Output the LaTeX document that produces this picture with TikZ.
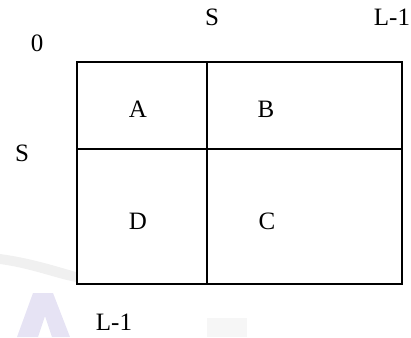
\documentclass[tikz,border=0pt]{standalone}
\usepackage{fontspec}
\setmainfont{Liberation Serif}
\usetikzlibrary{positioning}
\definecolor{wmlav}{HTML}{E6E3F4}
\definecolor{wmgray}{HTML}{F0F0F0}

\begin{document}
\begin{tikzpicture}[x=1pt, y=-1pt,
  lbl/.style={font=\fontsize{25}{30}\selectfont, inner sep=0pt},
  frame/.style={line width=2pt, black},
  wmark/.style={draw=none},
]
\useasboundingbox (0,0) rectangle (411,337);

% faint watermark behind the grid
\fill[wmark, wmgray] (0,254) .. controls (30,258) and (55,266) .. (76,272)
  -- (76,282) .. controls (55,278) and (30,268) .. (0,264) -- cycle;
\fill[wmark, wmlav, even odd rule] (17,337) -- (33,293) -- (53,293) -- (70,337) -- cycle
  (38,337) -- (45,316) -- (52,337) -- cycle;
\fill[wmark, wmgray!60] (207,318) -- (247,318) -- (247,337) -- (207,337) -- cycle;
\fill[white] (76,297) rectangle (207,337);

% grid
\coordinate (nw) at (77,62);
\coordinate (se) at (402,284);
\coordinate (vtop) at (207,62);
\coordinate (vbot) at (207,284);
\coordinate (hleft) at (77,149);
\coordinate (hright) at (402,149);
\draw[frame] (nw) rectangle (se);
\draw[frame] (vtop) -- (vbot);
\draw[frame] (hleft) -- (hright);

% axis labels
\node[lbl] (zero) at (37,43) {0};
\node[lbl] (stop) at (212,17) {S};
\node[lbl] (ltop) at (392,17) {L-1};
\node[lbl] (sleft) at (22,153) {S};
\node[lbl] (lbot) at (114,322) {L-1};

% quadrants
\node[lbl] (qa) at (138,109) {A};
\node[lbl] (qb) at (266,109) {B};
\node[lbl] (qd) at (138,221) {D};
\node[lbl] (qc) at (267,221) {C};

\end{tikzpicture}
\end{document}
